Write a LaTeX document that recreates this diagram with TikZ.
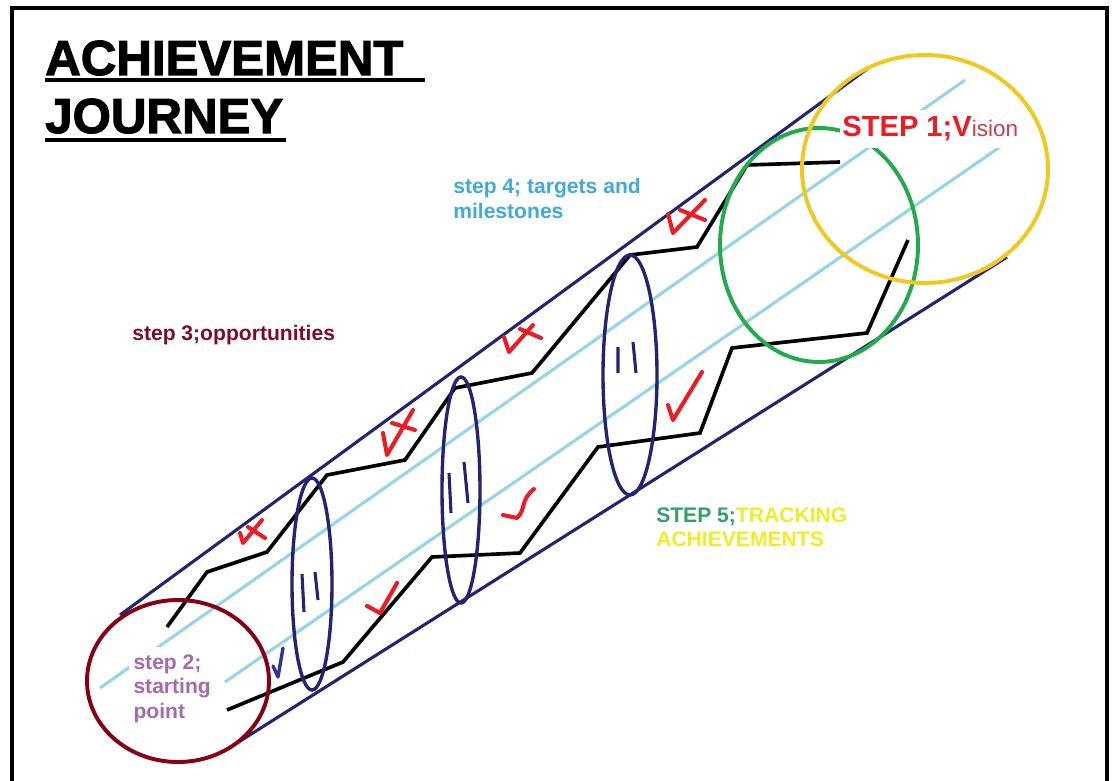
\documentclass[tikz,border=0pt]{standalone}
\usepackage{xcolor}
\usepackage{fontspec}
\setmainfont{Liberation Sans}
\newfontfamily\titlefont{Liberation Sans}[BoldFeatures={FakeBold=2.2}]
\usepackage{tikz}

\definecolor{tubenavy}{RGB}{35,35,115}
\definecolor{railblue}{RGB}{150,212,230}
\definecolor{markred}{RGB}{237,28,36}
\definecolor{visionred}{RGB}{205,60,75}
\definecolor{markblue}{RGB}{50,50,150}
\definecolor{startmaroon}{RGB}{136,0,21}
\definecolor{circlegreen}{RGB}{34,170,76}
\definecolor{circleyellow}{RGB}{240,200,30}
\definecolor{steppurple}{RGB}{165,105,175}
\definecolor{stepmaroon}{RGB}{128,10,40}
\definecolor{stepblue}{RGB}{65,170,215}
\definecolor{stepgreen}{RGB}{50,160,100}
\definecolor{trackyellow}{RGB}{242,236,40}

\begin{document}
\begin{tikzpicture}[
    x=0.025cm, y=-0.025cm,
    frame/.style={draw=black, line width=3.3pt},
    tube/.style={draw=tubenavy, line width=2.2pt},
    rail/.style={draw=railblue, line width=2.2pt},
    zigzag/.style={draw=black, line width=2.6pt},
    ring/.style={draw=tubenavy, line width=2.4pt},
    hoop/.style={line width=2.8pt},
    tally/.style={draw=tubenavy, line width=2.2pt},
    redmark/.style={draw=markred, line width=2.9pt, line cap=round, line join=round},
    bluemark/.style={draw=markblue, line width=2.4pt, line cap=round, line join=round},
    headline/.style={font=\titlefont\bfseries\fontsize{35}{40}\selectfont, anchor=base west, inner sep=0pt},
    titlerule/.style={draw=black, line width=2.2pt},
    stepnote/.style={font=\bfseries\fontsize{15}{17.7}\selectfont, align=left, inner sep=0pt}
]

\fill[white] (0,0) rectangle (1112,781);
\useasboundingbox (0,0) rectangle (1112,781);

\draw[frame] (12,781) -- (12,8) -- (1107,8) -- (1107,781);

\node[headline] (achieve) at (45,75) {ACHIEVEMENT};
\node[headline] (journey) at (45,133) {JOURNEY};
\draw[titlerule] (achieve.base west) ++(0,5) -- ++(380,0);
\draw[titlerule] (journey.base west) ++(0,7) -- ++(241,0);

\draw[tube] (120,615) -- (867,69);
\draw[tube] (237,743) -- (1007,257);

\draw[rail] (100,688) -- (965,80);
\draw[rail] (225,682) -- (1000,147);

\draw[zigzag] (167,627) -- (207,572) -- (267,552) -- (327,475) -- (405,460) -- (455,388)
    -- (532,373) -- (630,255) -- (697,247) -- (747,165) -- (840,162);
\draw[zigzag] (227,710) -- (343,662) -- (432,557) -- (520,553) -- (598,447) -- (700,433)
    -- (732,348) -- (867,333) -- (908,240);

\draw[ring] (312,584) ellipse [x radius=20, y radius=106];
\draw[ring] (461,490) ellipse [x radius=19, y radius=113];
\draw[ring] (630,375) ellipse [x radius=27, y radius=120];

\draw[tally] (302,574) -- (304,612) (315,572) -- (318,600);
\draw[tally] (449,473) -- (451,513) (464,462) -- (468,503);
\draw[tally] (618,347) -- (618,373) (633,342) -- (636,373);

\draw[hoop, draw=startmaroon] (178,681) ellipse [x radius=91, y radius=81];
\draw[hoop, draw=circlegreen] (819,245) ellipse [x radius=99, y radius=117];
\draw[hoop, draw=circleyellow] (925,169) ellipse [x radius=123, y radius=114];

\draw[redmark] (240,533) -- (243,543) -- (262,520) (248,527) -- (265,538);
\draw[redmark] (383,433) -- (387,455) -- (413,410) (392,423) -- (415,430);
\draw[redmark] (504,337) -- (509,352) -- (533,325) (520,329) -- (541,338);
\draw[redmark] (668,214) -- (673,233) -- (705,200) (680,210) -- (705,220);
\draw[redmark] (367,606) -- (380,613) -- (397,583);
\draw[redmark] (503,515) -- (517,518) .. controls (526,510) and (520,500) .. (534,489);
\draw[redmark] (668,405) -- (673,420) -- (702,372);
\draw[bluemark] (273,666) -- (278,677) -- (283,648);

\node[anchor=base west, fill=white, inner xsep=1.5pt, inner ysep=4.5pt] (vision) at (840,137)
    {{\color{markred}\bfseries\fontsize{20.7}{24}\selectfont STEP 1;V}{\color{visionred}\fontsize{16}{19}\selectfont ision}};
\node[stepnote, text=steppurple, fill=white, inner xsep=3pt, inner ysep=5pt, anchor=north west] (start) at (129,647)
    {step 2;\\starting\\point};
\node[stepnote, text=stepmaroon, anchor=base west] (chances) at (132,340) {step 3;opportunities};
\node[stepnote, text=stepblue, anchor=north west] (targets) at (453,178) {step 4; targets and\\milestones};
\node[stepnote, text=trackyellow, anchor=north west] (tracking) at (656,507)
    {{\color{stepgreen}STEP 5;}TRACKING\\ACHIEVEMENTS};

\end{tikzpicture}
\end{document}
